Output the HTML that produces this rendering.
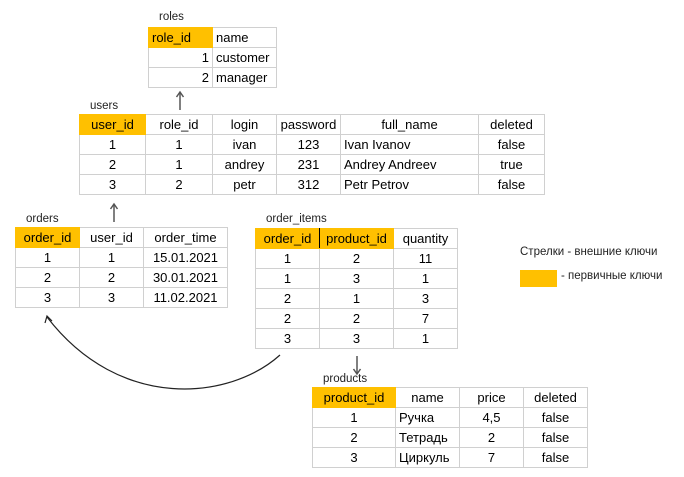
<!DOCTYPE html>
<html><head><meta charset="utf-8"><style>
body{margin:0;width:684px;height:477px;background:#fff;position:relative;overflow:hidden;font-family:"Liberation Sans","DejaVu Sans",sans-serif;}
table{position:absolute;border-collapse:collapse;table-layout:fixed;font-size:13px;color:#000}
td{border:1px solid #d0d0d0;height:19px;padding:0 3px;text-align:center;white-space:nowrap;overflow:hidden;line-height:19px}
td.h{background:#ffc000;border-color:#ffc000}
.r{text-align:right}.l{text-align:left}
.lab{position:absolute;font-size:11.5px;color:#222}
svg{position:absolute;left:0;top:0}
</style></head><body>
<div class="lab" style="left:159px;top:11px">roles</div>
<table style="left:148px;top:27px;width:128px"><colgroup><col style="width:64px"><col style="width:64px"></colgroup>
<tr><td class="h l">role_id</td><td class="l">name</td></tr>
<tr><td class="r">1</td><td class="l">customer</td></tr>
<tr><td class="r">2</td><td class="l">manager</td></tr></table>

<div class="lab" style="left:90px;top:100px">users</div>
<table style="left:79px;top:114px;width:465px"><colgroup><col style="width:66px"><col style="width:67px"><col style="width:64px"><col style="width:64px"><col style="width:138px"><col style="width:66px"></colgroup>
<tr><td class="h">user_id</td><td>role_id</td><td>login</td><td>password</td><td>full_name</td><td>deleted</td></tr>
<tr><td>1</td><td>1</td><td>ivan</td><td>123</td><td class="l">Ivan Ivanov</td><td>false</td></tr>
<tr><td>2</td><td>1</td><td>andrey</td><td>231</td><td class="l">Andrey Andreev</td><td>true</td></tr>
<tr><td>3</td><td>2</td><td>petr</td><td>312</td><td class="l">Petr Petrov</td><td>false</td></tr></table>

<div class="lab" style="left:26px;top:213px">orders</div>
<table style="left:15px;top:227px;width:212px"><colgroup><col style="width:64px"><col style="width:64px"><col style="width:84px"></colgroup>
<tr><td class="h">order_id</td><td>user_id</td><td>order_time</td></tr>
<tr><td>1</td><td>1</td><td>15.01.2021</td></tr>
<tr><td>2</td><td>2</td><td>30.01.2021</td></tr>
<tr><td>3</td><td>3</td><td>11.02.2021</td></tr></table>

<div class="lab" style="left:266px;top:213px">order_items</div>
<table style="left:255px;top:228px;width:202px"><colgroup><col style="width:64px"><col style="width:74px"><col style="width:64px"></colgroup>
<tr><td class="h" style="border-right:1px solid #000">order_id</td><td class="h">product_id</td><td>quantity</td></tr>
<tr><td>1</td><td>2</td><td>11</td></tr>
<tr><td>1</td><td>3</td><td>1</td></tr>
<tr><td>2</td><td>1</td><td>3</td></tr>
<tr><td>2</td><td>2</td><td>7</td></tr>
<tr><td>3</td><td>3</td><td>1</td></tr></table>

<div class="lab" style="left:323px;top:373px">products</div>
<table style="left:312px;top:387px;width:275px"><colgroup><col style="width:83px"><col style="width:64px"><col style="width:64px"><col style="width:64px"></colgroup>
<tr><td class="h">product_id</td><td>name</td><td>price</td><td>deleted</td></tr>
<tr><td>1</td><td class="l">Ручка</td><td>4,5</td><td>false</td></tr>
<tr><td>2</td><td class="l">Тетрадь</td><td>2</td><td>false</td></tr>
<tr><td>3</td><td class="l">Циркуль</td><td>7</td><td>false</td></tr></table>

<div class="lab" style="left:520px;top:246px;font-size:11.5px">Стрелки - внешние ключи</div>
<div style="position:absolute;left:520px;top:270px;width:37px;height:17px;background:#ffc000"></div>
<div class="lab" style="left:561px;top:270px;font-size:11.5px">- первичные ключи</div>

<svg width="684" height="477">
<g stroke="#555" stroke-width="1.5" fill="none">
<line x1="180" y1="110" x2="180" y2="93"/><path d="M176.5,97 L180,92 L183.5,97"/>
<line x1="114" y1="222" x2="114" y2="205"/><path d="M110.5,209 L114,204 L117.5,209"/>
<line x1="357" y1="356" x2="357" y2="373"/><path d="M353.5,369 L357,374 L360.5,369"/>
</g>
<path d="M280,355 C230,400 120,412 47,317" stroke="#222" stroke-width="1.2" fill="none"/>
<path d="M45,323 L47,316 L52,321" stroke="#222" stroke-width="1.2" fill="none"/>
</svg>
</body></html>
